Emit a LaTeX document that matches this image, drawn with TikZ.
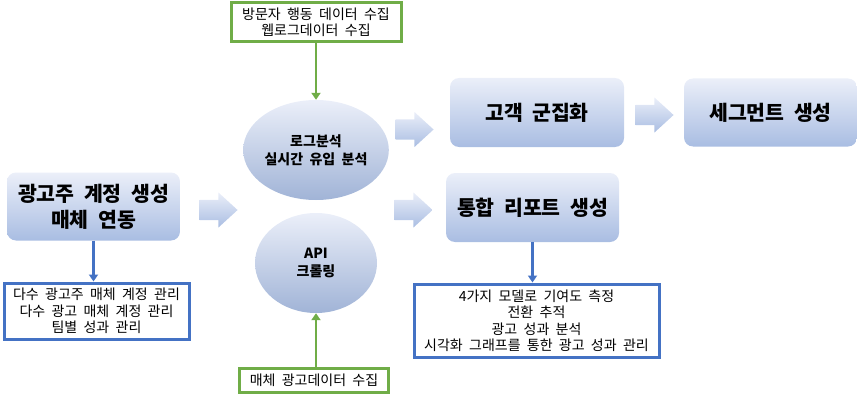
\documentclass[tikz,border=0pt]{standalone}
\usepackage{fontspec}
\setmainfont[WordSpace=2]{Noto Sans CJK KR}
\usetikzlibrary{arrows.meta,shapes.geometric,shapes.arrows}
\definecolor{boxtop}{HTML}{EBEFF9}
\definecolor{boxbot}{HTML}{A9BDE2}
\definecolor{leafgreen}{HTML}{70AD47}
\definecolor{noteblue}{HTML}{4472C4}

\begin{document}
\begin{tikzpicture}[x=1pt, y=-1pt, font=\fontsize{14}{16.5}\selectfont,
  stage/.style={rectangle, rounded corners=9pt, top color=boxtop, bottom color=boxbot,
    minimum width=173pt, minimum height=68pt, align=center, inner sep=2pt,
    font=\fontsize{20.5}{26}\selectfont\bfseries},
  hub/.style={ellipse, top color=boxtop, bottom color=boxbot!95!black,
    minimum width=122pt, minimum height=100pt, align=center, inner sep=0pt,
    font=\fontsize{14}{18}\selectfont\bfseries},
  blockarrow/.style={single arrow, single arrow head extend=7.5pt, single arrow tip angle=85,
    minimum height=38pt, inner xsep=0pt, inner ysep=10pt, top color=boxtop, bottom color=boxbot},
  feed/.style={rectangle, draw=leafgreen, line width=3pt, fill=white, align=center, inner sep=0pt},
  note/.style={rectangle, draw=noteblue, line width=3pt, fill=white, align=center, inner sep=0pt},
  feedline/.style={draw=leafgreen, line width=2.5pt, -{Triangle[length=7pt, width=9pt]}},
  noteline/.style={draw=noteblue, line width=2.5pt, -{Triangle[length=7pt, width=9pt]}}]
  \useasboundingbox (0,0) rectangle (857,396);

  % left column
  \node[stage] (setup) at (93.5,206.5) {광고주 계정 생성\\매체 연동};
  \node[note, minimum width=185pt, minimum height=56pt] (setupnote) at (96.5,311)
    {다수 광고주 매체 계정 관리\\다수 광고 매체 계정 관리\\팀별 성과 관리};
  \draw[noteline] (setup.south) -- (setup.south |- setupnote.north);

  % collection
  \node[blockarrow] (arr1) at (213,210) {};
  \node[hub] (logs) at (316,150) {로그분석\\실시간 유입 분석};
  \node[hub] (api) at (316,263) {API\\크롤링};
  \node[feed, minimum width=170pt, minimum height=39pt] (webdata) at (316,22.5)
    {방문자 행동 데이터 수집\\웹로그데이터 수집};
  \node[feed, minimum width=149pt, minimum height=24pt] (addata) at (314,380)
    {매체 광고데이터 수집};
  \draw[feedline] (webdata.south) -- (logs.north);
  \draw[feedline] (addata.north -| api.south) -- (api.south);

  % results
  \node[blockarrow] (arr2) at (409,129.5) {};
  \node[blockarrow] (arr3) at (408,210) {};
  \node[stage, minimum width=174pt, minimum height=69pt] (cluster) at (537,112.5) {고객 군집화};
  \node[blockarrow] (arr4) at (649,115) {};
  \node[stage] (segment) at (770.5,112.5) {세그먼트 생성};
  \node[stage, minimum height=69pt] (report) at (532.5,207.5) {통합 리포트 생성};
  \node[note, minimum width=245pt, minimum height=73pt] (reportnote) at (536.5,320.5)
    {4가지 모델로 기여도 측정\\전환 추적\\광고 성과 분석\\시각화 그래프를 통한 광고 성과 관리};
  \draw[noteline] (report.south) -- (report.south |- reportnote.north);
\end{tikzpicture}
\end{document}
